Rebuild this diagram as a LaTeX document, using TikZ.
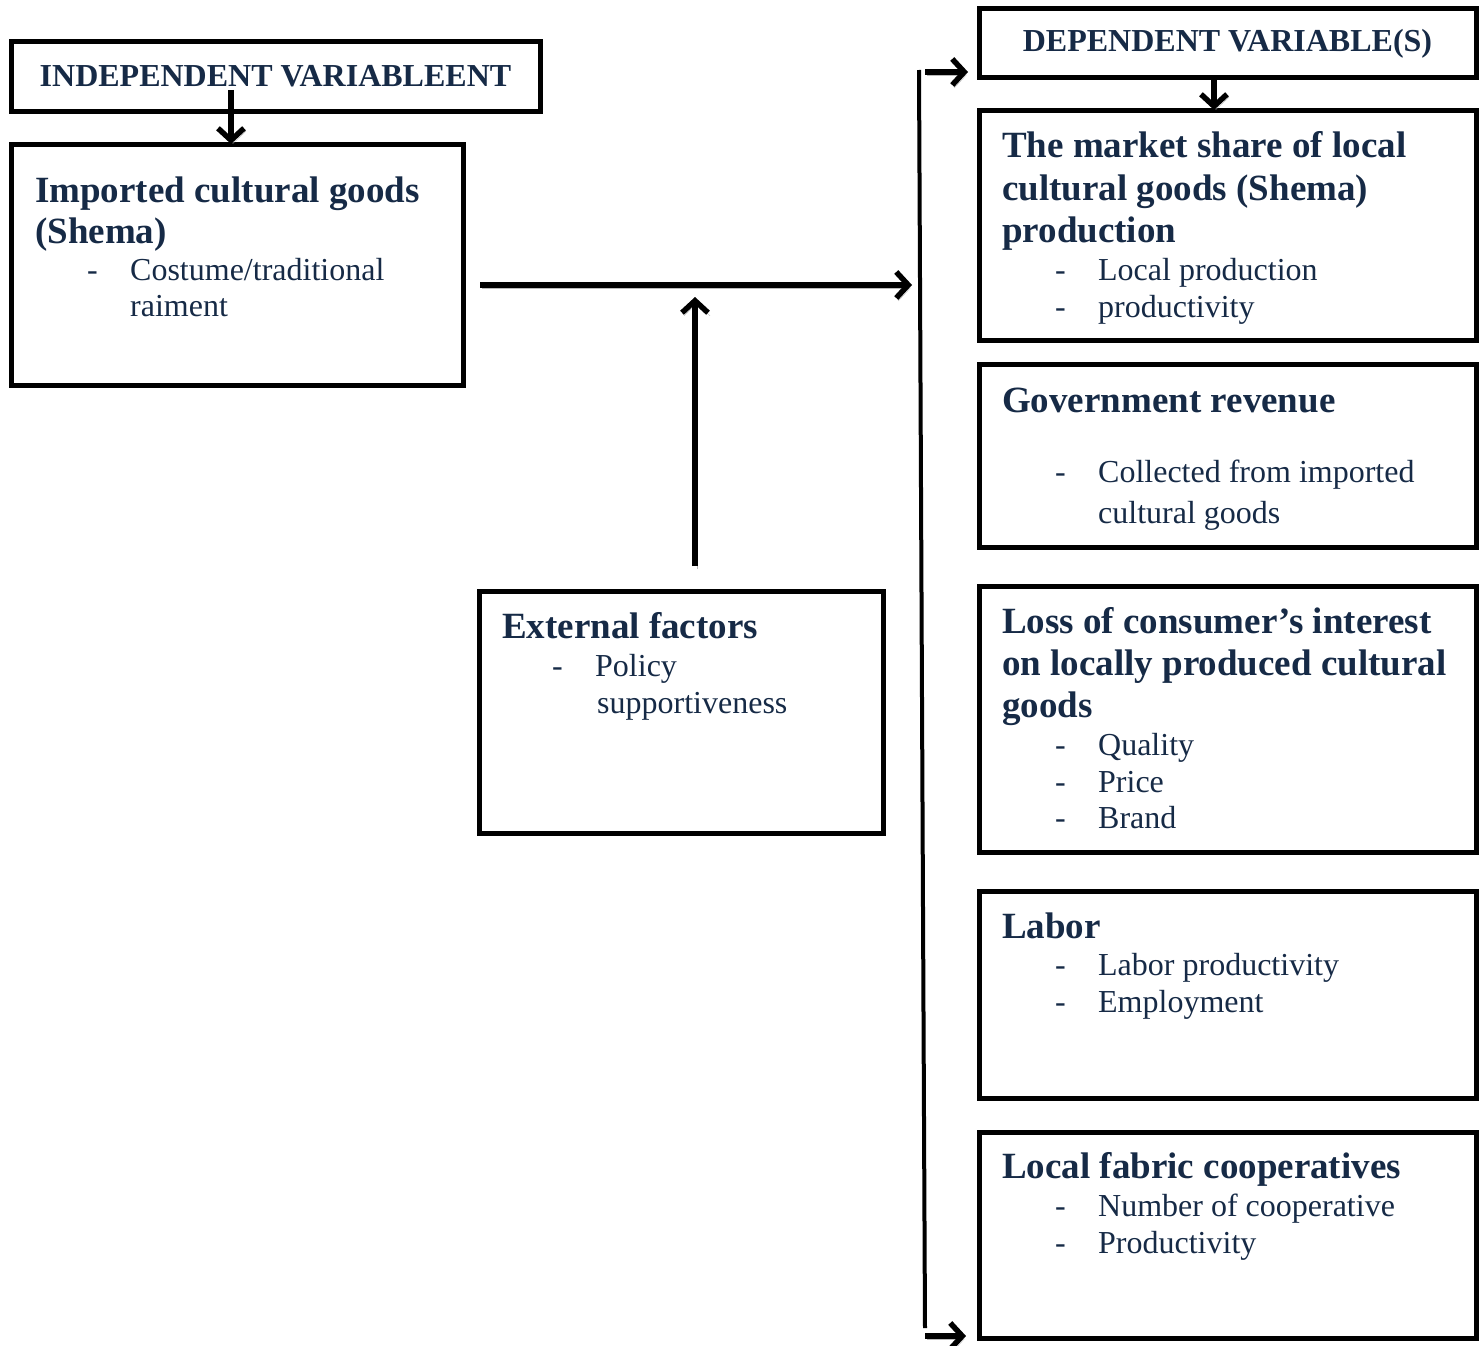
\documentclass[tikz,border=0pt]{standalone}
\usepackage{fontspec}
\setmainfont{Liberation Serif}
\usetikzlibrary{arrows.meta,positioning,calc}
\definecolor{varnavy}{RGB}{22,42,70}
\tikzset{
  vbox/.style={rectangle,draw=black,line width=5pt,outer sep=0pt,
               inner sep=0pt,anchor=north west},
  vtitle/.style={vbox,font=\fontsize{32}{37}\selectfont\bfseries,text=varnavy},
  headtxt/.style={anchor=base west,inner sep=0pt,
                  font=\fontsize{37}{42}\selectfont\bfseries,text=varnavy},
  itemtxt/.style={anchor=base west,inner sep=0pt,
                  font=\fontsize{32}{37}\selectfont,text=varnavy},
  arr/.style={line width=5.5pt,-{Straight Barb[length=12pt,width=26pt]},
              preaction={draw=gray!55,transform canvas={shift={(2pt,-3pt)}}}},
}
\newcommand{\dsh}{\makebox[43pt][l]{-}}

\begin{document}
\begin{tikzpicture}[x=1pt,y=-1pt]
  \useasboundingbox (0,0) rectangle (1484,1346);

  % variable titles
  \node[vtitle,minimum width=529,minimum height=69] (indep) at (11,42) {INDEPENDENT VARIABLEENT};
  \node[vtitle,minimum width=497,minimum height=69] (dep) at (979,9) {DEPENDENT VARIABLE(S)};

  % boxes
  \node[vbox,minimum width=452,minimum height=241] (imp) at (11,144) {};
  \node[vbox,minimum width=404,minimum height=242] (ext) at (479,591) {};
  \foreach \n/\y/\h in {mkt/110/230, gov/364/183, loss/586/266, lab/891/207, coop/1132/206}
    \node[vbox,minimum width=497,minimum height=\h] (\n) at (979,\y) {};

  % independent variable
  \node[headtxt] (imp-h1) at (35,202) {Imported cultural goods};
  \node[headtxt] (imp-h2) at (35,243) {(Shema)};
  \node[itemtxt] (imp-i1) at (87,280) {\dsh Costume/traditional};
  \node[itemtxt] (imp-i2) at (130,316) {raiment};

  % external factors
  \node[headtxt] (ext-h1) at (502,638) {External factors};
  \node[itemtxt] (ext-i1) at (552,676) {\dsh Policy};
  \node[itemtxt] (ext-i2) at (597,713) {supportiveness};

  % dependent variables
  \foreach \y/\t [count=\i] in {157/The market share of local, 200/cultural goods (Shema),
      242/production, 412/Government revenue, 633/Loss of consumer’s interest,
      675/on locally produced cultural, 717/goods, 938/Labor, 1178/Local fabric cooperatives}
    \node[headtxt] (dh\i) at (1002,\y) {\t};
  \foreach \y/\t [count=\i] in {280/Local production, 317/productivity,
      482/Collected from imported, 755/Quality, 792/Price, 828/Brand,
      975/Labor productivity, 1012/Employment, 1216/Number of cooperative, 1253/Productivity}
    \node[itemtxt] (di\i) at (1055,\y) {\dsh\t};
  \node[itemtxt] (di-gov) at (1098,523) {cultural goods};

  % connectors
  \coordinate (indep-out) at (231,90);
  \coordinate (dep-out) at (1214,80);
  \coordinate (imp-out) at (480,285);
  \coordinate (hub-in) at (912,285);
  \coordinate (ext-out) at (695,566);
  \coordinate (ext-in) at (695,297);
  \coordinate (bus-top) at (919,70);
  \coordinate (bus-bot) at (925,1328);
  \coordinate (dep-in) at (979,72);
  \coordinate (coop-in) at (979,1336);

  \draw[arr] (indep-out) -- (indep-out |- imp.north);
  \draw[arr] (dep-out) -- (dep-out |- mkt.north);
  \draw[arr] (imp-out) -- (hub-in);
  \draw[arr] (ext-out) -- (ext-in);
  \draw[line width=4pt] (bus-top) -- (bus-bot);
  \draw[arr,shorten >=11pt] (bus-bot |- dep-in) -- (dep-in);
  \draw[arr,shorten >=13pt] (bus-bot |- coop-in) -- (coop-in);
\end{tikzpicture}
\end{document}
